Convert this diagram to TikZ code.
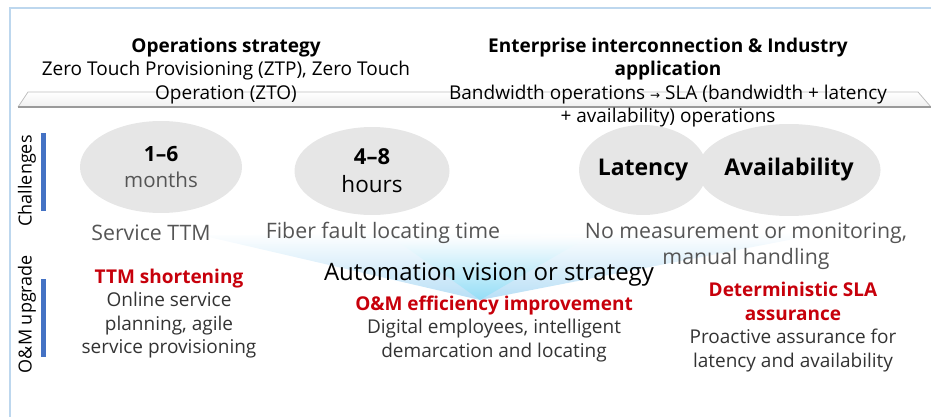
\documentclass[tikz,border=0pt]{standalone}
\usepackage{fontspec}
\setmainfont{Open Sans}
\newfontfamily\symf{DejaVu Sans}
\usetikzlibrary{shapes.geometric}
\definecolor{framecol}{HTML}{BDD7EE}
\definecolor{ellgray}{HTML}{E6E6E6}
\definecolor{txtgray}{HTML}{555555}
\definecolor{txtdark}{HTML}{333333}
\definecolor{hwred}{HTML}{C7000B}
\definecolor{barblue}{HTML}{4472C4}
\definecolor{shelfline}{HTML}{9A9A9A}
\definecolor{funlight}{HTML}{B8DFF6}
\definecolor{funcyan}{HTML}{8EDDF6}
\tikzset{
  txt/.style={align=center, inner sep=0pt, text=black},
  chal/.style={txt, text=txtgray, font=\fontsize{21.3}{26}\selectfont},
  body/.style={txt, text=txtdark, font=\fontsize{19}{23.5}\selectfont},
  head/.style={txt, font=\fontsize{19}{23.5}\selectfont},
  ell/.style={ellipse, fill=ellgray, inner sep=0pt, align=center},
  side/.style={txt, rotate=90, font=\fontsize{18}{20}\selectfont},
}
\begin{document}
\begin{tikzpicture}[x=1pt,y=-1pt]
\useasboundingbox (0,0) rectangle (931,417);
% frame
\draw[framecol, line width=1.5pt] (10,417) -- (10,8) -- (931,8);
% shelf
\shade[top color=white, bottom color=black!6] (18,107) -- (28,92) -- (918,92) -- (931,107) -- cycle;
\draw[black!25, line width=0.8pt] (18,107) -- (28,92) -- (918,92) -- (931,107);
\draw[shelfline, line width=2.5pt] (18,107) -- (931,107);
% funnel
\shade[top color=white, bottom color=funlight] (200,235) -- (830,232) -- (480,300) -- cycle;
\shade[top color=white, bottom color=funcyan, opacity=0.85] (393,238) -- (590,236) -- (480,300) -- cycle;
% top texts
\node[head] (ops) at (226,71) {\bfseries Operations strategy\\Zero Touch Provisioning (ZTP), Zero Touch\\Operation (ZTO)};
\node[head] (ent) at (668,82.5) {\bfseries Enterprise interconnection \& Industry\\\bfseries application\\Bandwidth operations {\symf\fontsize{12}{12}\selectfont →} SLA (bandwidth + latency\\+ availability) operations};
% side labels
\node[side] (chl) at (27,181) {Challenges};
\node[side] (omu) at (27,314) {O\&M upgrade};
\fill[barblue] (40.5,133) rectangle (45.5,211);
\fill[barblue] (40.5,279) rectangle (45.5,357);
% ellipses
\node[ell, minimum width=162pt, minimum height=92pt, font=\fontsize{21}{26}\selectfont] (e1) at (161,167)
  {{\bfseries 1–6}\\{\fontsize{20.5}{26}\selectfont\color{txtgray} months}};
\node[ell, minimum width=155pt, minimum height=88pt, font=\fontsize{22}{28}\selectfont] (e2) at (372,171)
  {{\bfseries 4–8}\\{\fontsize{22.5}{28}\selectfont hours}};
\node[ell, minimum width=120pt, minimum height=90pt, font=\fontsize{23}{26}\selectfont\bfseries] (e3) at (643,170) {Latency};
\node[ell, minimum width=172pt, minimum height=92pt, font=\fontsize{23}{26}\selectfont\bfseries] (e4) at (789,170) {Availability};
% challenge labels
\node[chal] (c1) at (151,233) {Service TTM};
\node[chal] (c2) at (383,233) {Fiber fault locating time};
\node[chal] (c3) at (746,246) {No measurement or monitoring,\\manual handling};
% center
\node[txt, font=\fontsize{24}{28}\selectfont] (auto) at (489,275) {Automation vision or strategy};
% upgrades
\node[body] (u1) at (169,313.5) {{\color{hwred}\bfseries TTM shortening}\\Online service\\planning, agile\\service provisioning};
\node[body] (u2) at (494,329) {{\color{hwred}\bfseries O\&M efficiency improvement}\\Digital employees, intelligent\\demarcation and locating};
\node[body] (u3) at (793,327) {{\color{hwred}\bfseries Deterministic SLA}\\{\color{hwred}\bfseries assurance}\\Proactive assurance for\\latency and availability};
\end{tikzpicture}
\end{document}
